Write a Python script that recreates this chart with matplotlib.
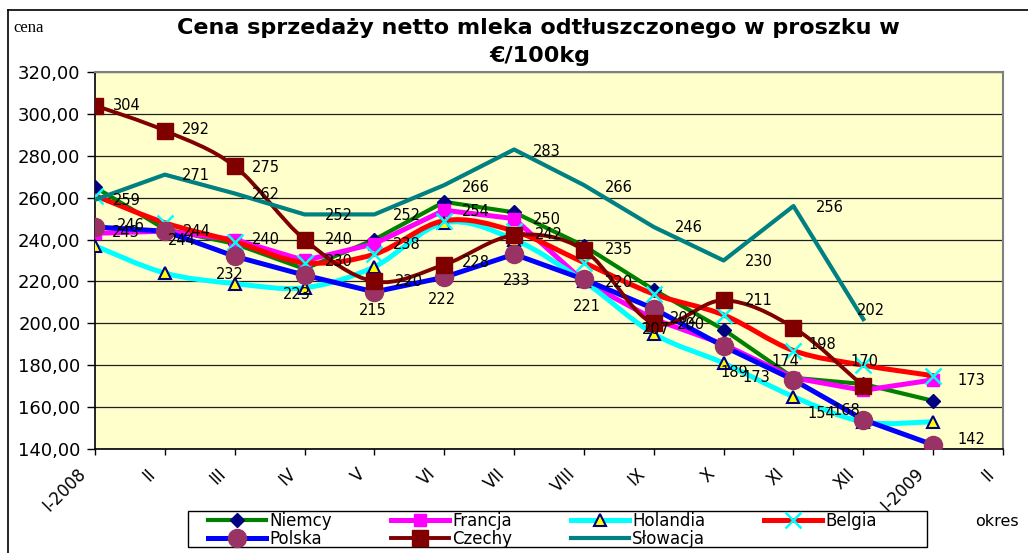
import matplotlib
matplotlib.use('Agg')
import matplotlib.pyplot as plt
import matplotlib.transforms as mtransforms
import numpy as np
from matplotlib.path import Path
from matplotlib.patches import PathPatch, Rectangle
from matplotlib.lines import Line2D

# kategorie (okres)
months = ['I-2008', 'II', 'III', 'IV', 'V', 'VI', 'VII', 'VIII', 'IX', 'X', 'XI', 'XII', 'I-2009', 'II']

# ceny w EUR/100kg
niemcy = [265, 245, 238, 226, 240, 258, 253, 237, 216, 197, 174, 171, 163]
francja = [243, 244, 240, 230, 238, 254, 250, 220, 202, 190, 174, 168, 173]
holandia = [237, 224, 219, 217, 227, 248, 240, 220, 195, 181, 165, 153, 153]
belgia = [261, 248, 239, 229, 233, 249, 244, 229, 214, 204, 187, 180, 175]
polska = [246, 244, 232, 223, 215, 222, 233, 221, 207, 189, 173, 154, 142]
czechy = [304, 292, 275, 240, 220, 228, 242, 235, 200, 211, 198, 170]
slowacja = [259, 271, 262, 252, 252, 266, 283, 266, 246, 230, 256, 202]

# przesuniecia etykiet danych (px: dx, dy w dol, wyrownanie)
czechy_lab = [(18, 0, 'left'), (17, -1, 'left'), (17, 1, 'left'), (20, 0, 'left'),
              (20, 0, 'left'), (18, -2, 'left'), (21, -1, 'left'), (21, -1, 'left'),
              (23, 1, 'left'), (21, 0, 'left'), (15, 17, 'left'), (-13, -25, 'left')]
slowacja_lab = [(18, 1, 'left'), (17, 1, 'left'), (17, 1, 'left'), (20, 1, 'left'),
                (18, 1, 'left'), (18, 2, 'left'), (19, 2, 'left'), (21, 2, 'left'),
                (21, 1, 'left'), (21, 1, 'left'), (22, 1, 'left'), (-6, -9, 'left')]
polska_lab = [(22, -1, 'left'), (18, 0, 'left'), (-5, 18, 'center'), (-8, 19, 'center'),
              (-2, 19, 'center'), (-2, 22, 'center'), (3, 26, 'center'), (3, 27, 'center'),
              (2, 21, 'center'), (11, 26, 'center'), (-23, -2, 'right'), (-28, -6, 'right'),
              (24, -5, 'left')]
francja_lab = [(17, -1, 'left'), (3, 9, 'left'), (17, 0, 'left'), (20, 1, 'left'),
               (18, 1, 'left'), (18, 1, 'left'), (19, 1, 'left'), (21, 1, 'left'),
               (16, -1, 'left'), None, (-8, -16, 'center'), (-3, 20, 'right'),
               (24, 1, 'left')]


def smooth_path(xs, ys):
    # wygladzona linia jak w Excelu (krzywe Beziera)
    pts = np.column_stack([xs, ys]).astype(float)
    n = len(pts)
    verts = [pts[0]]
    codes = [Path.MOVETO]
    for i in range(n - 1):
        p0 = pts[max(i - 1, 0)]
        p1 = pts[i]
        p2 = pts[i + 1]
        p3 = pts[min(i + 2, n - 1)]
        verts += [p1 + (p2 - p0) / 6, p2 - (p3 - p1) / 6, p2]
        codes += [Path.CURVE4] * 3
    return Path(verts, codes)


fig = plt.figure(figsize=(10.28, 5.53), dpi=100)
ax = fig.add_axes([95 / 1028, 1 - 449 / 553, (1003 - 95) / 1028, (449 - 72) / 553])
ax.set_facecolor('#FFFFCC')

series = [
    ('Niemcy', niemcy, dict(color='#008000', lw=3.0, marker='D', ms=7, mfc='#000080', mec='#000080'), False),
    ('Francja', francja, dict(color='#FF00FF', lw=3.6, marker='s', ms=9, mfc='#FF00FF', mec='#FF00FF'), False),
    ('Holandia', holandia, dict(color='#00FFFF', lw=3.6, marker='^', ms=9, mfc='#FFFF00', mec='#000080', mew=1.5), True),
    ('Belgia', belgia, dict(color='#FF0000', lw=3.6, marker='x', ms=11, mfc='#00FFFF', mec='#00FFFF', mew=1.8), True),
    ('Polska', polska, dict(color='#0000FF', lw=3.6, marker='o', ms=13, mfc='#993366', mec='#993366'), False),
    ('Czechy', czechy, dict(color='#800000', lw=2.8, marker='s', ms=11, mfc='#800000', mec='#800000'), True),
    ('Słowacja', slowacja, dict(color='#008080', lw=3.0, marker='None'), False),
]

handles = []
for z, (name, vals, st, smooth) in enumerate(series):
    x = np.arange(len(vals))
    zo = 3 + z
    if smooth:
        ax.add_patch(PathPatch(smooth_path(x, vals), fill=False, edgecolor=st['color'],
                               lw=st['lw'], zorder=zo, capstyle='round', joinstyle='round'))
        mk = {k: v for k, v in st.items() if k not in ('color', 'lw')}
        ax.plot(x, vals, ls='none', zorder=zo, **mk)
    else:
        ax.plot(x, vals, zorder=zo, solid_joinstyle='round', **st)
    handles.append(Line2D([], [], **st))

# etykiety danych
for vals, labs in [(czechy, czechy_lab), (slowacja, slowacja_lab),
                   (polska, polska_lab), (francja, francja_lab)]:
    for i, (v, lab) in enumerate(zip(vals, labs)):
        if lab is None:
            continue
        dx, dy, ha = lab
        ax.annotate(f'{v:.0f}', (i, v), xytext=(dx, -dy), textcoords='offset pixels',
                    ha=ha, va='center', fontsize=10.5, color='black', zorder=20)

ax.set_xlim(0, 13)
ax.set_ylim(140, 320)
ax.set_yticks(np.arange(140, 321, 20))
ax.set_yticklabels([f'{v:.2f}'.replace('.', ',') for v in np.arange(140, 321, 20)], fontsize=13)
ax.set_xticks(np.arange(len(months)))
ax.set_xticklabels([])

# opisy osi X przesuniete w lewo od kresek (jak w Excelu)
lab_tr = ax.get_xaxis_transform() + mtransforms.ScaledTranslation(-18 / 100, -16 / 100, fig.dpi_scale_trans)
for i, m in enumerate(months):
    ax.text(i, 0, m, transform=lab_tr, rotation=45, ha='right', va='top',
            rotation_mode='anchor', fontsize=12, clip_on=False)

ax.tick_params(axis='y', length=5.5, width=1, pad=5, color='black')
ax.tick_params(axis='x', length=4, width=1, color='black')
ax.grid(axis='y', color='#202020', lw=0.9, zorder=1)
ax.set_axisbelow(True)
for s in ('left', 'bottom'):
    ax.spines[s].set_color('black')
    ax.spines[s].set_linewidth(1.2)
for s in ('top', 'right'):
    ax.spines[s].set_color('#808080')
    ax.spines[s].set_linewidth(1.5)

# tytul i opisy
fig.text(538 / 1028, 1 - 28 / 553, 'Cena sprzedaży netto mleka odtłuszczonego w proszku w',
         ha='center', va='center', fontsize=16, fontweight='bold')
fig.text(540 / 1028, 1 - 56 / 553, '€/100kg', ha='center', va='center', fontsize=16, fontweight='bold')
fig.text(13 / 1028, 1 - 28 / 553, 'cena', ha='left', va='center', fontsize=12, family='Liberation Serif')
fig.text(975 / 1028, 1 - 521 / 553, 'okres', ha='left', va='center', fontsize=11.5)

# ramka wykresu
fig.add_artist(Line2D([8 / 1028, 1], [1 - 10 / 553, 1 - 10 / 553], color='black', lw=1.2,
                      transform=fig.transFigure))
fig.add_artist(Line2D([8 / 1028, 8 / 1028], [0, 1 - 10 / 553], color='black', lw=1.2,
                      transform=fig.transFigure))

# ramka legendy
fig.add_artist(Rectangle((188 / 1028, 1 - 547 / 553), (927 - 188) / 1028, 36 / 553,
                         transform=fig.transFigure, facecolor='white', edgecolor='black',
                         lw=1.0, zorder=1))

order = [0, 4, 1, 5, 2, 6, 3]
leg = fig.legend([handles[i] for i in order], [series[i][0] for i in order],
                 loc='upper left', bbox_to_anchor=(208 / 1028, 1 - 512 / 553), ncol=4,
                 fontsize=12, frameon=False,
                 handlelength=3.5, handletextpad=0.2, columnspacing=3.5,
                 labelspacing=0.0, borderpad=0, borderaxespad=0)
leg.set_zorder(5)

fig.savefig('out.png', dpi=100)
